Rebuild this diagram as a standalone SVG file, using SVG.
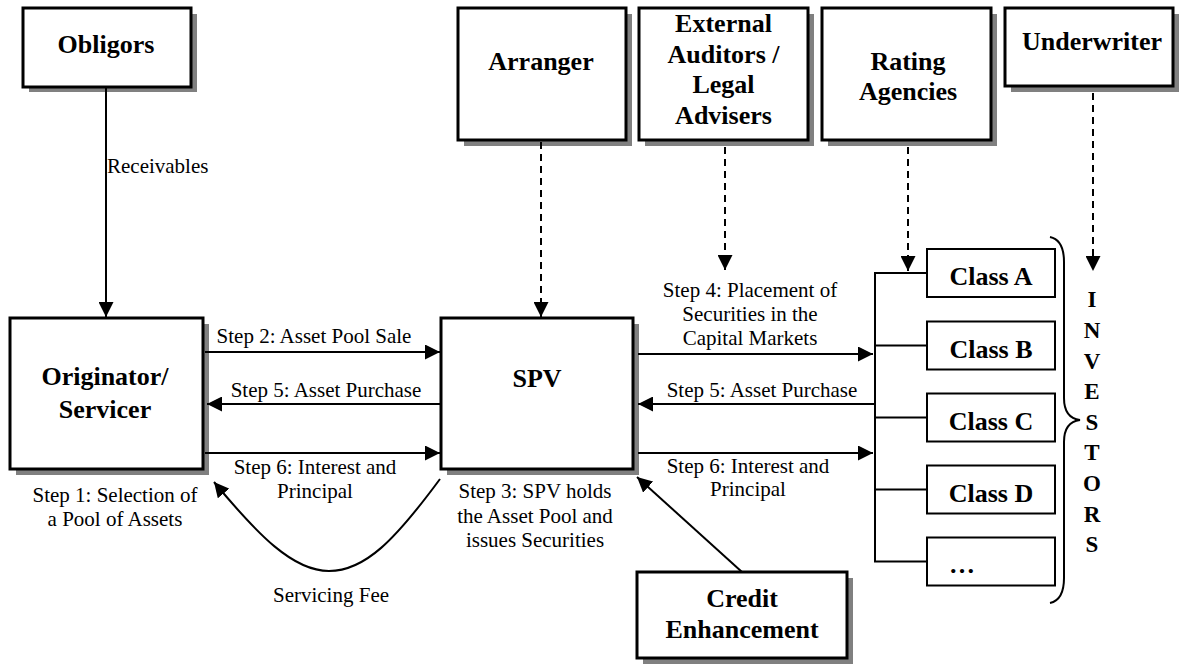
<svg xmlns="http://www.w3.org/2000/svg" width="1180" height="664" viewBox="0 0 1180 664">
  <defs>
    <style>
      .box { fill: #ffffff; stroke: #000000; stroke-width: 3; }
      .shadow { fill: #808080; }
      .cls { fill: #ffffff; stroke: #000000; stroke-width: 2; }
      .title { font-family: "Liberation Serif", "Times New Roman", serif; font-weight: bold; font-size: 26px; text-anchor: middle; fill: #000000; }
      .inv { font-family: "Liberation Serif", "Times New Roman", serif; font-weight: bold; font-size: 23px; text-anchor: middle; fill: #000000; }
      .lbl { font-family: "Liberation Serif", "Times New Roman", serif; font-size: 21px; text-anchor: middle; fill: #000000; }
      .line { fill: none; stroke: #000000; stroke-width: 2; }
      .dash { stroke-dasharray: 7 5; }
    </style>
    <marker id="arrow" markerUnits="userSpaceOnUse" markerWidth="15" markerHeight="15" refX="15" refY="7.5" orient="auto">
      <path d="M0,0 L15,7.5 L0,15 z" fill="#000000"/>
    </marker>
  </defs>

  <rect width="1180" height="664" fill="#ffffff"/>

  <!-- Parties -->
  <g id="obligors">
    <rect class="shadow" x="29" y="14" width="168" height="78"/>
    <rect class="box" x="23" y="8" width="168" height="79"/>
    <text class="title" x="106" y="53">Obligors</text>
  </g>

  <g id="arranger">
    <rect class="shadow" x="464" y="14" width="168" height="132"/>
    <rect class="box" x="458" y="8" width="168" height="132"/>
    <text class="title" x="541" y="70">Arranger</text>
  </g>

  <g id="auditors">
    <rect class="shadow" x="645" y="14" width="169" height="132"/>
    <rect class="box" x="639" y="8" width="169" height="132"/>
    <text class="title" x="723.5" y="32">External</text>
    <text class="title" x="723.5" y="63">Auditors /</text>
    <text class="title" x="723.5" y="93">Legal</text>
    <text class="title" x="723.5" y="124">Advisers</text>
  </g>

  <g id="rating">
    <rect class="shadow" x="828" y="14" width="169" height="132"/>
    <rect class="box" x="822" y="8" width="169" height="132"/>
    <text class="title" x="908" y="70">Rating</text>
    <text class="title" x="908" y="100">Agencies</text>
  </g>

  <g id="underwriter">
    <rect class="shadow" x="1011" y="14" width="168" height="78"/>
    <rect class="box" x="1005" y="8" width="168" height="78"/>
    <text class="title" x="1092" y="50">Underwriter</text>
  </g>

  <g id="originator">
    <rect class="shadow" x="16" y="324" width="193" height="151"/>
    <rect class="box" x="10" y="318" width="193" height="151"/>
    <text class="title" x="105" y="385">Originator/</text>
    <text class="title" x="105" y="418">Servicer</text>
  </g>

  <g id="spv">
    <rect class="shadow" x="447" y="324" width="192" height="151"/>
    <rect class="box" x="441" y="318" width="192" height="151"/>
    <text class="title" x="537" y="387">SPV</text>
  </g>

  <g id="credit">
    <rect class="shadow" x="643" y="578" width="210" height="86"/>
    <rect class="box" x="637" y="572" width="210" height="86"/>
    <text class="title" x="742" y="607">Credit</text>
    <text class="title" x="742" y="638">Enhancement</text>
  </g>

  <!-- Security classes -->
  <g id="class-a">
    <rect class="cls" x="927" y="249" width="128" height="48"/>
    <text class="title" x="991" y="285">Class A</text>
  </g>
  <g id="class-b">
    <rect class="cls" x="927" y="321.5" width="128" height="48"/>
    <text class="title" x="991" y="357.5">Class B</text>
  </g>
  <g id="class-c">
    <rect class="cls" x="927" y="393.5" width="128" height="48"/>
    <text class="title" x="991" y="429.5">Class C</text>
  </g>
  <g id="class-d">
    <rect class="cls" x="927" y="465.5" width="128" height="48"/>
    <text class="title" x="991" y="501.5">Class D</text>
  </g>
  <g id="class-more">
    <rect class="cls" x="927" y="537.5" width="128" height="48"/>
    <text class="title" x="949" y="573" style="text-anchor:start">…</text>
  </g>

  <!-- Investors brace and label -->
  <g id="investors">
    <path class="line" d="M1050,237 Q1064,240 1064,262 L1064,398 Q1064,418 1080,420 Q1064,422 1064,442 L1064,578 Q1064,600 1050,603"/>
    <text class="inv" x="1092" y="307">I</text>
    <text class="inv" x="1092" y="338">N</text>
    <text class="inv" x="1092" y="369">V</text>
    <text class="inv" x="1092" y="399">E</text>
    <text class="inv" x="1092" y="430">S</text>
    <text class="inv" x="1092" y="460">T</text>
    <text class="inv" x="1092" y="491">O</text>
    <text class="inv" x="1092" y="522">R</text>
    <text class="inv" x="1092" y="552">S</text>
  </g>

  <!-- Connectors -->
  <g id="connectors">
    <path class="line" d="M106,88 V317" marker-end="url(#arrow)"/>
    <path class="line" d="M205,352 H440" marker-end="url(#arrow)"/>
    <path class="line" d="M441,404 H207" marker-end="url(#arrow)"/>
    <path class="line" d="M205,453 H440" marker-end="url(#arrow)"/>
    <path class="line" d="M638,354 H873" marker-end="url(#arrow)"/>
    <path class="line" d="M875,404 H638" marker-end="url(#arrow)"/>
    <path class="line" d="M638,453 H873" marker-end="url(#arrow)"/>

    <path class="line dash" d="M541,142 V317" marker-end="url(#arrow)"/>
    <path class="line dash" d="M725,147 V270" marker-end="url(#arrow)"/>
    <path class="line dash" d="M908,147 V271" marker-end="url(#arrow)"/>
    <path class="line dash" d="M1093,93 V271" marker-end="url(#arrow)"/>

    <path class="line" d="M742,572 L637,477" marker-end="url(#arrow)"/>
    <path class="line" d="M440,479 C395,540 365,571 329,571 C293,571 258,535 214,482" marker-end="url(#arrow)"/>

    <!-- bus joining the classes -->
    <path class="line" d="M927,273 H875 V561.5 H927"/>
    <path class="line" d="M875,345.5 H927 M875,417.5 H927 M875,489.5 H927"/>
  </g>

  <!-- Connector labels -->
  <g id="labels">
    <text class="lbl" x="107" y="173" style="text-anchor:start">Receivables</text>
    <text class="lbl" x="314" y="343">Step 2: Asset Pool Sale</text>
    <text class="lbl" x="326" y="397">Step 5: Asset Purchase</text>
    <text class="lbl" x="315" y="474">Step 6: Interest and</text>
    <text class="lbl" x="315" y="498">Principal</text>
    <text class="lbl" x="115" y="502">Step 1: Selection of</text>
    <text class="lbl" x="115" y="526">a Pool of Assets</text>
    <text class="lbl" x="535" y="498">Step 3: SPV holds</text>
    <text class="lbl" x="535" y="523">the Asset Pool and</text>
    <text class="lbl" x="535" y="547">issues Securities</text>
    <text class="lbl" x="331" y="602">Servicing Fee</text>
    <text class="lbl" x="750" y="297">Step 4: Placement of</text>
    <text class="lbl" x="750" y="321">Securities in the</text>
    <text class="lbl" x="750" y="345">Capital Markets</text>
    <text class="lbl" x="762" y="397">Step 5: Asset Purchase</text>
    <text class="lbl" x="748" y="473">Step 6: Interest and</text>
    <text class="lbl" x="748" y="496">Principal</text>
  </g>
</svg>
